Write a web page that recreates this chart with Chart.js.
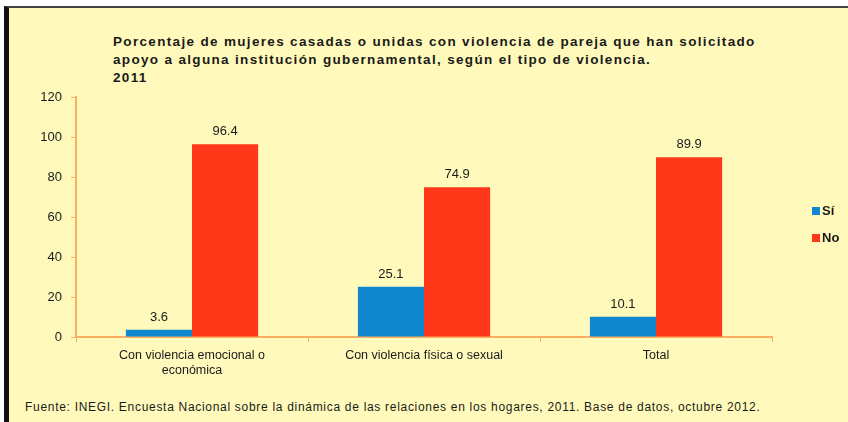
<!DOCTYPE html>
<html>
<head>
<meta charset="utf-8">
<script src="https://cdn.jsdelivr.net/npm/chart.js@4"></script>
<style>
  html, body { margin: 0; padding: 0; background: #fff; }
  #wrap { position: relative; width: 848px; height: 422px; overflow: hidden; }
  #frame {
    position: absolute; left: 4px; top: 6px; right: 0; bottom: 0;
    background: #FFFABB;
    border-left: 5px solid #111;
    border-top: 2px solid #444;
  }
  #titulo {
    position: absolute; left: 113px; top: 33px;
    font: bold 13.5px "Liberation Sans", Arial, sans-serif;
    letter-spacing: 1.33px; line-height: 18px; color: #1a1a1a;
  }
  #fuente {
    position: absolute; left: 25px; top: 400px;
    font: 12px "Liberation Sans", Arial, sans-serif;
    letter-spacing: 0.7px; color: #1a1a1a;
  }
  canvas { position: absolute; left: 0; top: 0; }
</style>
</head>
<body>
<div id="wrap">
  <div id="frame"></div>
  <div id="titulo">Porcentaje de mujeres casadas o unidas con violencia de pareja que han solicitado<br>apoyo a alguna institución gubernamental, según el tipo de violencia.<br>2011</div>
  <div id="fuente">Fuente: INEGI. Encuesta Nacional sobre la dinámica de las relaciones en los hogares, 2011. Base de datos, octubre 2012.</div>
  <canvas id="chart-1" width="848" height="422"></canvas>
</div>
<script>
var categorias = [["Con violencia emocional o", "económica"], "Con violencia física o sexual", "Total"];
var valores_si = [3.6, 25.1, 10.1];
var valores_no = [96.4, 74.9, 89.9];
var ticks_y = [0, 20, 40, 60, 80, 100, 120];

var axisColor = '#F8B060';

// etiquetas encima de cada barra
const valueLabels = {
    id: 'valueLabels',
    afterDatasetsDraw(chart) {
        const ctx = chart.ctx;
        ctx.save();
        ctx.font = '13px "Liberation Sans", Arial, sans-serif';
        ctx.fillStyle = '#1a1a1a';
        ctx.textAlign = 'center';
        ctx.textBaseline = 'bottom';
        chart.data.datasets.forEach((ds, i) => {
            chart.getDatasetMeta(i).data.forEach((bar, j) => {
                ctx.fillText(ds.data[j].toFixed(1), bar.x, bar.y - 6);
            });
        });
        ctx.restore();
    }
};

// leyenda a la derecha
const sideLegend = {
    id: 'sideLegend',
    afterDraw(chart) {
        const ctx = chart.ctx;
        ctx.save();
        ctx.font = 'bold 13px "Liberation Sans", Arial, sans-serif';
        ctx.textBaseline = 'middle';
        chart.data.datasets.forEach((ds, i) => {
            const y = 211 + i * 27;
            ctx.fillStyle = ds.backgroundColor;
            ctx.fillRect(812, y - 4, 8, 8);
            ctx.fillStyle = '#1a1a1a';
            ctx.fillText(ds.label, 822, y);
        });
        ctx.restore();
    }
};

const ctx = document.getElementById("chart-1").getContext("2d");
const myChart = new Chart(ctx, {
    type: "bar",
    data: {
        labels: categorias,
        datasets: [{
            label: "Sí",
            data: valores_si,
            backgroundColor: '#1087CF',
        }, {
            label: "No",
            data: valores_no,
            backgroundColor: '#FF3819',
        }],
    },
    options: {
        responsive: false,
        animation: false,
        layout: {
            padding: { left: 36, right: 76, top: 97, bottom: 34 }
        },
        datasets: {
            bar: {
                categoryPercentage: 0.57,
                barPercentage: 1.0,
            }
        },
        plugins: {
            legend: { display: false },
            tooltip: { enabled: false },
        },
        scales: {
            x: {
                afterFit: (scale) => { scale.height = 51; },
                grid: {
                    drawOnChartArea: false,
                    color: axisColor,
                    tickLength: 5,
                    lineWidth: 1,
                },
                border: { color: axisColor, width: 2 },
                ticks: {
                    color: '#1a1a1a',
                    font: { family: '"Liberation Sans", Arial, sans-serif', size: 12.5 },
                    maxRotation: 0,
                    padding: 6,
                },
            },
            y: {
                min: 0,
                max: 120,
                afterFit: (scale) => { scale.width = 40; },
                afterBuildTicks: (scale) => { scale.ticks = ticks_y.map(v => ({ value: v })); },
                grid: {
                    drawOnChartArea: false,
                    color: axisColor,
                    tickLength: 5,
                },
                border: { color: axisColor, width: 2 },
                ticks: {
                    color: '#1a1a1a',
                    font: { family: '"Liberation Sans", Arial, sans-serif', size: 13 },
                    padding: 9,
                },
            },
        },
    },
    plugins: [valueLabels, sideLegend],
});
</script>
</body>
</html>
